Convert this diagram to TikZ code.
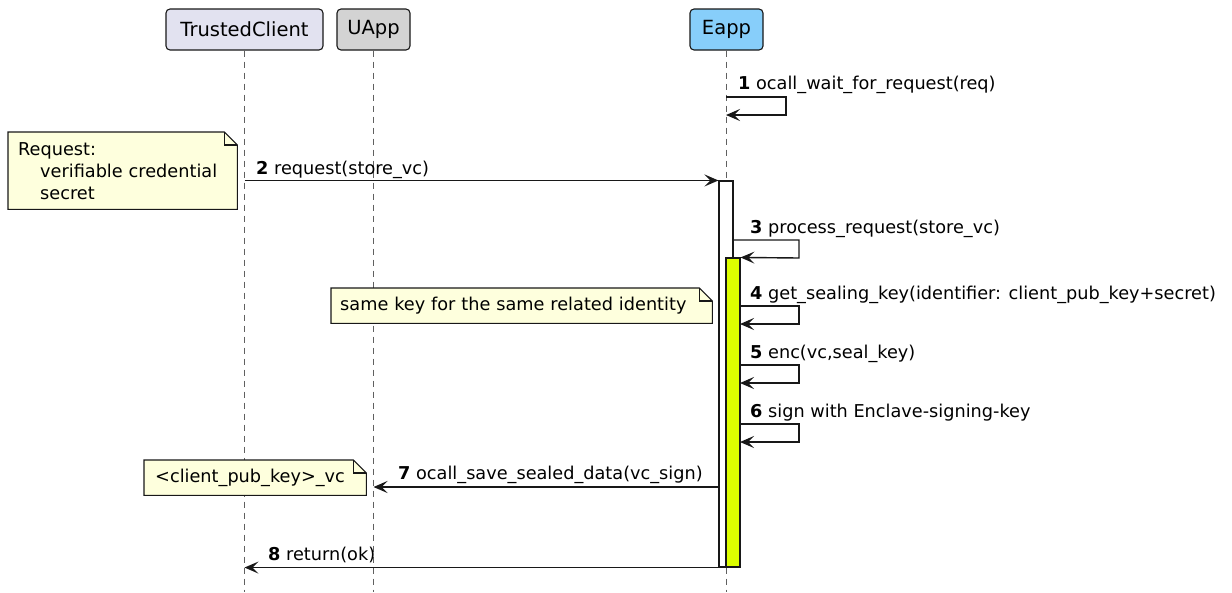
\documentclass[tikz,border=0pt]{standalone}
\usepackage{fontspec}
\setmainfont{DejaVu Sans}
\usetikzlibrary{arrows.meta, backgrounds}

\definecolor{edge}{HTML}{181818}
\definecolor{lifegray}{HTML}{606060}
\definecolor{clientblue}{HTML}{E2E2F0}
\definecolor{uappgray}{HTML}{D3D3D3}
\definecolor{eappblue}{HTML}{87CEFA}
\definecolor{notefill}{HTML}{FEFFDD}
\definecolor{sealgreen}{HTML}{DDFF00}

\begin{document}
\begin{tikzpicture}[x=1pt, y=-1pt, font=\fontsize{17.7}{22}\selectfont,
  part/.style={draw=edge, line width=1.1pt, rounded corners=4pt, minimum height=41pt,
    inner sep=0pt, font=\fontsize{19.5}{22}\selectfont},
  life/.style={draw=lifegray, line width=1.3pt, dash pattern=on 6pt off 5pt},
  msg/.style={draw=edge, line width=1.4pt,
    -{Stealth[length=14pt, width=12pt, inset=6pt]}},
  act/.style={draw=edge, line width=1.1pt, minimum width=14pt, inner sep=0pt},
  note/.style={align=left, inner ysep=0pt, anchor=north west},
  lbl/.style={anchor=base west, inner sep=0pt}]

  \useasboundingbox (0,0) rectangle (1232,592);
  \coordinate (foot) at (0,592);

  % participants
  \node[part, fill=clientblue, minimum width=157pt] (tc) at (244.5,29.5) {TrustedClient};
  \node[part, fill=uappgray, minimum width=73pt] (ua) at (373.5,29.5) {UApp};
  \node[part, fill=eappblue, minimum width=73pt] (ea) at (726.5,29.5) {Eapp};

  % activations of Eapp
  \node[act, fill=white, minimum height=386pt] (run) at (726,374) {};
  \node[act, fill=sealgreen, minimum height=309pt] (seal) at (733,412.5) {};

  % notes
  \node[note, text width=209pt, inner xsep=10pt, minimum height=77pt] (n1) at (8,132)
    {Request:\\\hspace*{22pt}verifiable credential\\\hspace*{22pt}secret};
  \node[note, text width=363pt, inner xsep=9pt, minimum height=35pt] (n2) at (331,288)
    {same key for the same related identity};
  \node[note, text width=200pt, inner xsep=11pt, minimum height=35pt] (n3) at (144,460)
    {<client\_pub\_key>\_vc};

  \begin{scope}[on background layer]
    \foreach \p in {tc,ua,ea} \draw[life] (\p.south) -- (\p.south |- foot);
    \foreach \n in {n1,n2,n3} {
      \filldraw[fill=notefill, draw=edge, line width=1.1pt] (\n.south west) -- (\n.north west)
        -- ([xshift=-13pt]\n.north east) -- ([yshift=-13pt]\n.north east) -- (\n.south east) -- cycle;
      \draw[edge, line width=1.1pt] ([xshift=-13pt]\n.north east) |- ([yshift=-13pt]\n.north east);
    }
  \end{scope}

  % 1: Eapp waits
  \coordinate (w1) at (726,97); \coordinate (w2) at (726,115);
  \draw[msg] (w1) -- ++(60,0) -- ++(0,18) -- (w2);
  \node[lbl] (l1) at (738,89) {\textbf{1} ocall\_wait\_for\_request(req)};

  % 2: client request
  \draw[msg] (tc.south |- run.north) -- (run.north west);
  \node[lbl] (l2) at (256,174) {\textbf{2} request(store\_vc)};

  % 3: process request
  \coordinate (p3) at (733,240);
  \draw[msg] (p3) -- ++(66,0) -- ++(0,18) -- (seal.north east);
  \node[lbl] (l3) at (750,233) {\textbf{3} process\_request(store\_vc)};

  % 4-6: sealing steps
  \foreach \n/\y/\txt in {4/306/{get\_sealing\_key(identifier: client\_pub\_key+secret)},
      5/365/{enc(vc,seal\_key)}, 6/424/{sign with Enclave-signing-key}} {
    \coordinate (s\n) at (740,\y);
    \coordinate (e\n) at (740,\y+18);
    \draw[msg] (s\n) -- ++(59,0) -- ++(0,18) -- (e\n);
    \node[lbl] (l\n) at (750,\y-7) {\textbf{\n} \txt};
  }

  % 7: save sealed data
  \coordinate (r7) at (719,487);
  \draw[msg] (r7) -- (ua.south |- r7);
  \node[lbl] (l7) at (398,479) {\textbf{7} ocall\_save\_sealed\_data(vc\_sign)};

  % 8: return
  \draw[msg] (run.south west) -- (tc.south |- run.south);
  \node[lbl] (l8) at (268,560) {\textbf{8} return(ok)};
\end{tikzpicture}
\end{document}
